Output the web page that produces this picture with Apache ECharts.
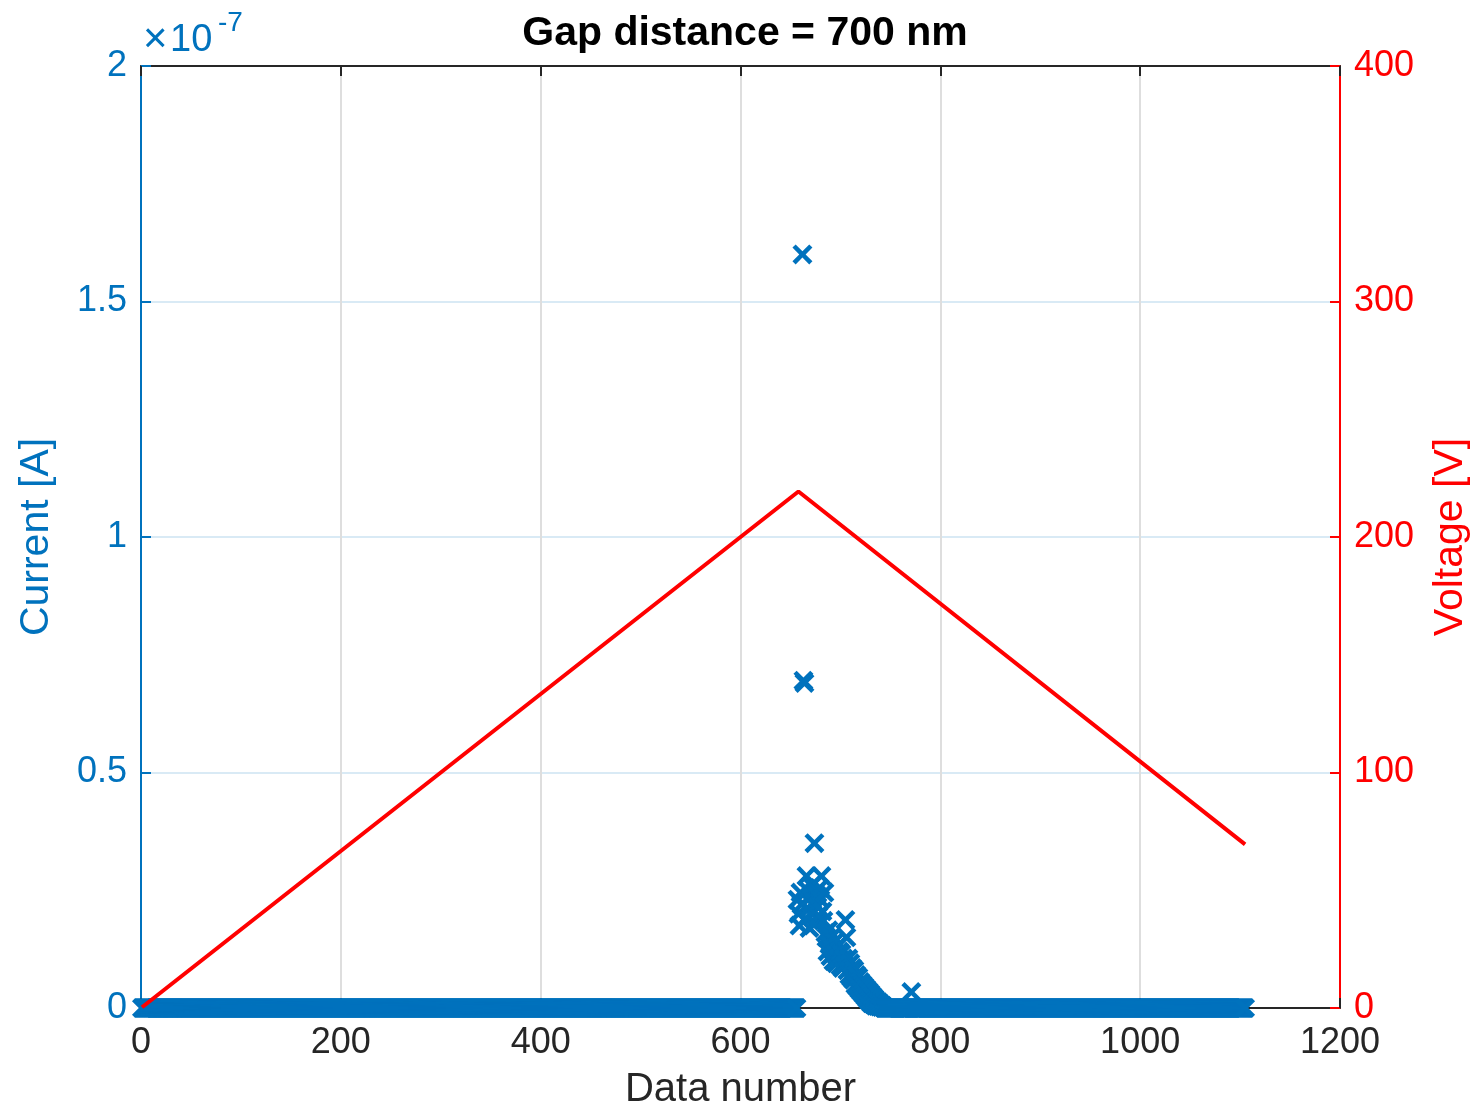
<!DOCTYPE html>
<html><head><meta charset="utf-8">
<script src="https://cdn.jsdelivr.net/npm/echarts@6/dist/echarts.min.js"></script>
<style>html,body{margin:0;padding:0;background:#fff;overflow:hidden}#c{width:1476px;height:1105px}</style>
</head><body><div id="c"></div>
<script>
// ---------------- data ----------------
const chartTitle = 'Gap distance = 700 nm';
const xName = 'Data number';
const leftName = 'Current [A]';
const rightName = 'Voltage [V]';
const sampleCount = 1105;                 // samples numbered 1..1105; current reads 0 except below
// consecutive non-zero current samples starting at index clusterStart (units of 1e-7 A)
const clusterStart = 657;
const clusterCurrent = [
  0.23,0.20,0.175,0.245,0.22,1.60,0.695,0.69,0.19,0.28,      // 657-666
  0.25,0.21,0.17,0.235,0.26,0.20,0.225,0.35,0.18,0.24,       // 667-676
  0.215,0.195,0.255,0.23,0.28,0.205,0.185,0.245,0.16,        // 677-685
  0.15,0.12,0.165,0.135,0.11,0.15,0.125,0.10,0.14,0.115,     // 686-695
  0.095,0.13,0.105,0.12,0.09,0.115,0.085,0.105,0.09,0.187,   // 696-705
  0.15,0.08,0.105,0.07,0.095,0.065,0.085,0.06,0.08,0.05,     // 706-715
  0.07,0.045,0.065,0.04,0.055,0.035,0.05,0.03,0.045,0.025,   // 716-725
  0.04,0.02,0.035,0.015,0.03,0.01,0.025,0.008,0.02,0.005,    // 726-735
  0.015,0.004,0.012,0.003,0.008,0.002,0.005,0.002            // 736-743
];
// isolated non-zero current samples
const isolatedIndex = [771];
const isolatedCurrent = [0.034];
// voltage ramp breakpoints (index, V)
const voltageIndex = [1, 658, 1105];
const voltageValue = [0.3, 219.3, 69.5];
// axes
const xMin = 0, xMax = 1200, xStep = 200;
const iMin = 0, iMax = 2, iStep = 0.5;      // ×1e-7 A
const vMin = 0, vMax = 400, vStep = 100;
const exponentLabel = ['×', '10', '-7'];

// ---------------- build ----------------
const currentMap = new Map();
clusterCurrent.forEach((v, i) => currentMap.set(clusterStart + i, v));
isolatedIndex.forEach((k, i) => currentMap.set(k, isolatedCurrent[i]));
const currentData = [];
for (let i = 1; i <= sampleCount; i++) currentData.push([i, currentMap.has(i) ? currentMap.get(i) : 0]);
const voltageData = voltageIndex.map((k, i) => [k, voltageValue[i]]);

const BLUE = '#0072BD', RED = '#FF0000', DARK = '#262626';
const FONT = 'Liberation Sans, Arial, Helvetica, sans-serif';
const xMark = 'path://M0,16L16,0L50,34L84,0L100,16L66,50L100,84L84,100L50,66L16,100L0,84L34,50Z';
const plain = v => String(v);

const chart = echarts.init(document.getElementById('c'), null, {renderer: 'canvas'});
chart.setOption({
  backgroundColor: '#fff',
  animation: false,
  title: {
    text: chartTitle, left: 740, top: 8, textAlign: 'center',
    textStyle: {fontFamily: FONT, fontSize: 41, fontWeight: 'bold', color: '#000'}
  },
  grid: {left: 141, right: 136, top: 66, bottom: 97, containLabel: false, outerBoundsMode: 'none'},
  xAxis: [{
    type: 'value', position: 'bottom', min: xMin, max: xMax, interval: xStep,
    name: xName, nameLocation: 'middle', nameGap: 62,
    nameTextStyle: {fontFamily: FONT, fontSize: 40, color: DARK},
    axisLine: {onZero: false, lineStyle: {color: DARK, width: 2}},
    axisTick: {inside: true, length: 10, lineStyle: {color: DARK, width: 2}},
    axisLabel: {fontFamily: FONT, fontSize: 36, color: DARK, margin: 17, formatter: plain},
    splitLine: {show: true, lineStyle: {color: '#dedede', width: 2}}
  }, {
    type: 'value', position: 'top', min: xMin, max: xMax, interval: xStep,
    axisLine: {onZero: false, lineStyle: {color: DARK, width: 2}},
    axisTick: {inside: true, length: 10, lineStyle: {color: DARK, width: 2}},
    axisLabel: {show: false}, splitLine: {show: false}
  }],
  yAxis: [{
    type: 'value', position: 'left', min: iMin, max: iMax, interval: iStep,
    name: leftName, nameLocation: 'middle', nameGap: 84, nameRotate: 90,
    nameTextStyle: {fontFamily: FONT, fontSize: 41, color: BLUE},
    axisLine: {show: true, onZero: false, lineStyle: {color: BLUE, width: 2}},
    axisTick: {show: true, inside: true, length: 10, lineStyle: {color: BLUE, width: 2}},
    axisLabel: {fontFamily: FONT, fontSize: 36, color: BLUE, margin: 14, formatter: plain},
    splitLine: {show: true, lineStyle: {color: '#d9eaf5', width: 2}}
  }, {
    type: 'value', position: 'right', min: vMin, max: vMax, interval: vStep,
    name: rightName, nameLocation: 'middle', nameGap: 90, nameRotate: 90,
    nameTextStyle: {fontFamily: FONT, fontSize: 41, color: RED},
    axisLine: {show: true, onZero: false, lineStyle: {color: RED, width: 2}},
    axisTick: {show: true, inside: true, length: 10, lineStyle: {color: RED, width: 2}},
    axisLabel: {fontFamily: FONT, fontSize: 36, color: RED, margin: 14, formatter: plain},
    splitLine: {show: false}
  }],
  graphic: [
    {type: 'text', left: 143, top: 19, style: {text: exponentLabel[0], fontFamily: FONT, fontSize: 42, fill: BLUE}},
    {type: 'text', left: 170, top: 22, style: {text: exponentLabel[1], fontFamily: FONT, fontSize: 38, fill: BLUE}},
    {type: 'text', left: 218, top: 9, style: {text: exponentLabel[2], fontFamily: FONT, fontSize: 28, fill: BLUE}}
  ],
  series: [{
    type: 'scatter', xAxisIndex: 0, yAxisIndex: 0, data: currentData,
    symbol: xMark, symbolSize: 20, itemStyle: {color: BLUE, opacity: 1}, z: 2
  }, {
    type: 'line', xAxisIndex: 0, yAxisIndex: 1, data: voltageData,
    showSymbol: false, symbol: 'none', lineStyle: {color: RED, width: 4}, z: 3
  }]
});
</script></body></html>
